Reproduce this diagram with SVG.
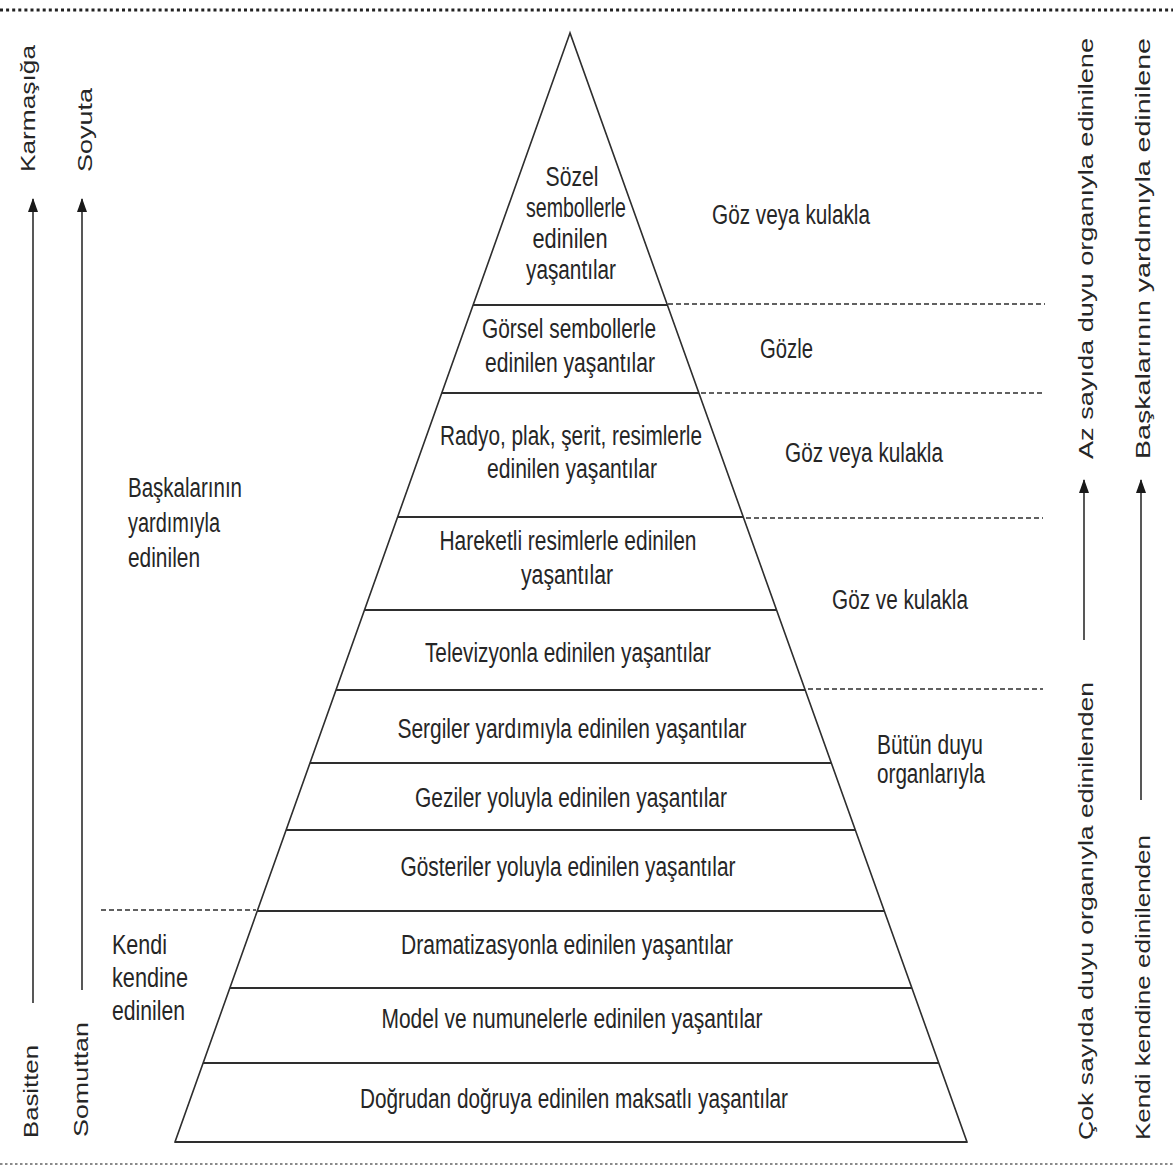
<svg xmlns="http://www.w3.org/2000/svg" width="1173" height="1171" viewBox="0 0 1173 1171">
  <style>
    text { font-family: "Liberation Sans", Arial, sans-serif; fill: #262626; }
    .lvl { font-size: 27px; text-anchor: middle; }
    .side { font-size: 27px; }
    .vert { font-size: 21px; }
    .edge { fill: none; stroke: #2e2e2e; stroke-width: 1.6; }
    .tier { stroke: #2e2e2e; stroke-width: 2.2; }
    .dash { stroke: #2e2e2e; stroke-width: 1.6; stroke-dasharray: 5 3; }
    .axis { stroke: #2e2e2e; stroke-width: 1.6; fill: none; marker-end: url(#head); }
  </style>
  <defs>
    <marker id="head" markerUnits="userSpaceOnUse" markerWidth="14" markerHeight="10" refX="13" refY="5" orient="auto" viewBox="0 0 14 10">
      <path d="M0,0 L14,5 L0,10 Z" fill="#1a1a1a"/>
    </marker>
  </defs>

  <rect width="1173" height="1171" fill="#ffffff"/>

  <!-- frame: dotted rules top and bottom -->
  <line x1="0" y1="10" x2="1173" y2="10" stroke="#222" stroke-width="3" stroke-dasharray="3 3.1"/>
  <line x1="0" y1="1164" x2="1173" y2="1164" stroke="#8a8a8a" stroke-width="2" stroke-dasharray="2.5 2.5"/>

  <!-- pyramid outline -->
  <g id="pyramid">
    <polygon class="edge" points="570,33 175,1142 967,1142"/>
    <line class="tier" x1="473" y1="305" x2="667" y2="305"/>
    <line class="tier" x1="442" y1="393" x2="699" y2="393"/>
    <line class="tier" x1="398" y1="517" x2="743" y2="517"/>
    <line class="tier" x1="365" y1="610" x2="777" y2="610"/>
    <line class="tier" x1="336" y1="690" x2="805" y2="690"/>
    <line class="tier" x1="310" y1="763" x2="831" y2="763"/>
    <line class="tier" x1="286" y1="830" x2="855" y2="830"/>
    <line class="tier" x1="257" y1="911" x2="884" y2="911"/>
    <line class="tier" x1="230" y1="988" x2="912" y2="988"/>
    <line class="tier" x1="203" y1="1063" x2="939" y2="1063"/>
    <line class="tier" x1="175" y1="1142" x2="967" y2="1142"/>
  </g>

  <!-- pyramid tiers, top to bottom -->
  <g id="tier-sozel">
    <text class="lvl" x="572" y="186" textLength="53" lengthAdjust="spacingAndGlyphs">Sözel</text>
    <text class="lvl" x="576" y="217" textLength="100" lengthAdjust="spacingAndGlyphs">sembollerle</text>
    <text class="lvl" x="570" y="248" textLength="75" lengthAdjust="spacingAndGlyphs">edinilen</text>
    <text class="lvl" x="571" y="279" textLength="90" lengthAdjust="spacingAndGlyphs">yaşantılar</text>
  </g>
  <g id="tier-gorsel">
    <text class="lvl" x="569" y="338" textLength="174" lengthAdjust="spacingAndGlyphs">Görsel sembollerle</text>
    <text class="lvl" x="570" y="372" textLength="170" lengthAdjust="spacingAndGlyphs">edinilen yaşantılar</text>
  </g>
  <g id="tier-radyo">
    <text class="lvl" x="571" y="445" textLength="262" lengthAdjust="spacingAndGlyphs">Radyo, plak, şerit, resimlerle</text>
    <text class="lvl" x="572" y="478" textLength="170" lengthAdjust="spacingAndGlyphs">edinilen yaşantılar</text>
  </g>
  <g id="tier-hareketli">
    <text class="lvl" x="568" y="550" textLength="257" lengthAdjust="spacingAndGlyphs">Hareketli resimlerle edinilen</text>
    <text class="lvl" x="567" y="584" textLength="92" lengthAdjust="spacingAndGlyphs">yaşantılar</text>
  </g>
  <g id="tier-televizyon">
    <text class="lvl" x="568" y="662" textLength="286" lengthAdjust="spacingAndGlyphs">Televizyonla edinilen yaşantılar</text>
  </g>
  <g id="tier-sergiler">
    <text class="lvl" x="572" y="738" textLength="349" lengthAdjust="spacingAndGlyphs">Sergiler yardımıyla edinilen yaşantılar</text>
  </g>
  <g id="tier-geziler">
    <text class="lvl" x="571" y="807" textLength="312" lengthAdjust="spacingAndGlyphs">Geziler yoluyla edinilen yaşantılar</text>
  </g>
  <g id="tier-gosteriler">
    <text class="lvl" x="568" y="876" textLength="335" lengthAdjust="spacingAndGlyphs">Gösteriler yoluyla edinilen yaşantılar</text>
  </g>
  <g id="tier-dramatizasyon">
    <text class="lvl" x="567" y="954" textLength="332" lengthAdjust="spacingAndGlyphs">Dramatizasyonla edinilen yaşantılar</text>
  </g>
  <g id="tier-model">
    <text class="lvl" x="572" y="1028" textLength="381" lengthAdjust="spacingAndGlyphs">Model ve numunelerle edinilen yaşantılar</text>
  </g>
  <g id="tier-dogrudan">
    <text class="lvl" x="574" y="1108" textLength="428" lengthAdjust="spacingAndGlyphs">Doğrudan doğruya edinilen maksatlı yaşantılar</text>
  </g>

  <!-- sense bands on the right -->
  <g id="bands">
    <line class="dash" x1="668" y1="304" x2="1045" y2="304"/>
    <line class="dash" x1="701" y1="393" x2="1045" y2="393"/>
    <line class="dash" x1="746" y1="518" x2="1043" y2="518"/>
    <line class="dash" x1="808" y1="689" x2="1043" y2="689"/>
    <line class="dash" x1="101" y1="910" x2="256" y2="910"/>
  </g>
  <g id="band-goz-veya-kulak-1">
    <text class="side" x="712" y="224" textLength="158" lengthAdjust="spacingAndGlyphs">Göz veya kulakla</text>
  </g>
  <g id="band-gozle">
    <text class="side" x="760" y="358" textLength="53" lengthAdjust="spacingAndGlyphs">Gözle</text>
  </g>
  <g id="band-goz-veya-kulak-2">
    <text class="side" x="785" y="462" textLength="158" lengthAdjust="spacingAndGlyphs">Göz veya kulakla</text>
  </g>
  <g id="band-goz-ve-kulak">
    <text class="side" x="832" y="609" textLength="136" lengthAdjust="spacingAndGlyphs">Göz ve kulakla</text>
  </g>
  <g id="band-butun-duyu">
    <text class="side" x="877" y="754" textLength="106" lengthAdjust="spacingAndGlyphs">Bütün duyu</text>
    <text class="side" x="877" y="783" textLength="108" lengthAdjust="spacingAndGlyphs">organlarıyla</text>
  </g>

  <!-- source labels on the left -->
  <g id="src-baskalari">
    <text class="side" x="128" y="497" textLength="114" lengthAdjust="spacingAndGlyphs">Başkalarının</text>
    <text class="side" x="128" y="532" textLength="92" lengthAdjust="spacingAndGlyphs">yardımıyla</text>
    <text class="side" x="128" y="567" textLength="72" lengthAdjust="spacingAndGlyphs">edinilen</text>
  </g>
  <g id="src-kendi">
    <text class="side" x="112" y="954" textLength="55" lengthAdjust="spacingAndGlyphs">Kendi</text>
    <text class="side" x="112" y="987" textLength="76" lengthAdjust="spacingAndGlyphs">kendine</text>
    <text class="side" x="112" y="1020" textLength="73" lengthAdjust="spacingAndGlyphs">edinilen</text>
  </g>

  <!-- axis arrows -->
  <g id="connectors">
    <line class="axis" x1="33" y1="1003" x2="33" y2="199"/>
    <line class="axis" x1="82" y1="990" x2="82" y2="199"/>
    <line class="axis" x1="1084" y1="640" x2="1084" y2="480"/>
    <line class="axis" x1="1141" y1="800" x2="1141" y2="480"/>
  </g>

  <!-- axis captions, read bottom to top -->
  <g id="axis-basit">
    <text class="vert" transform="translate(35,172) rotate(-90)" textLength="127" lengthAdjust="spacingAndGlyphs">Karmaşığa</text>
    <text class="vert" transform="translate(38,1138) rotate(-90)" textLength="93" lengthAdjust="spacingAndGlyphs">Basitten</text>
  </g>
  <g id="axis-somut">
    <text class="vert" transform="translate(92,172) rotate(-90)" textLength="84" lengthAdjust="spacingAndGlyphs">Soyuta</text>
    <text class="vert" transform="translate(88,1137) rotate(-90)" textLength="115" lengthAdjust="spacingAndGlyphs">Somuttan</text>
  </g>
  <g id="axis-duyu">
    <text class="vert" transform="translate(1093,459) rotate(-90)" textLength="421" lengthAdjust="spacingAndGlyphs">Az sayıda duyu organıyla edinilene</text>
    <text class="vert" transform="translate(1093,1140) rotate(-90)" textLength="458" lengthAdjust="spacingAndGlyphs">Çok sayıda duyu organıyla  edinilenden</text>
  </g>
  <g id="axis-kaynak">
    <text class="vert" transform="translate(1150,459) rotate(-90)" textLength="421" lengthAdjust="spacingAndGlyphs">Başkalarının yardımıyla edinilene</text>
    <text class="vert" transform="translate(1150,1140) rotate(-90)" textLength="305" lengthAdjust="spacingAndGlyphs">Kendi kendine edinilenden</text>
  </g>
</svg>
